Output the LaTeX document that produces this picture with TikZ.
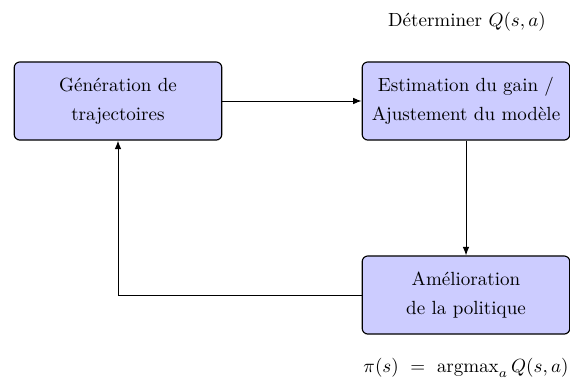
\documentclass[tikz,border=0pt]{standalone}
\usepackage{amsmath}
\usetikzlibrary{arrows.meta}
\begin{document}
\begin{tikzpicture}[x=0.525pt,y=-0.525pt,
  stagebox/.style={draw=black, line width=0.6pt, fill=blue!20, rounded corners=3pt,
    minimum width=109pt, minimum height=41pt, align=center, inner sep=0pt},
  flow/.style={-{Latex[length=4.5pt,width=3.5pt]}, line width=0.5pt}]
\useasboundingbox (0,0) rectangle (570,385);
\node[stagebox] (gen) at (118,101) {G\'en\'eration de\\[3pt]trajectoires};
\node[stagebox] (est) at (466,101) {Estimation du gain /\\[3pt]Ajustement du mod\`ele};
\node[stagebox] (ame) at (466,295) {Am\'elioration\\[3pt]de la politique};
\node (top) at (467,22) {D\'eterminer $Q(s,a)$};
\node (bot) at (466,368) {$\pi(s)\ =\ \mathrm{argmax}_{a}\,Q(s,a)$};
\draw[flow] (gen) -- (est);
\draw[flow] (est) -- (ame);
\draw[flow] (ame.west) -| (gen.south);
\end{tikzpicture}
\end{document}
